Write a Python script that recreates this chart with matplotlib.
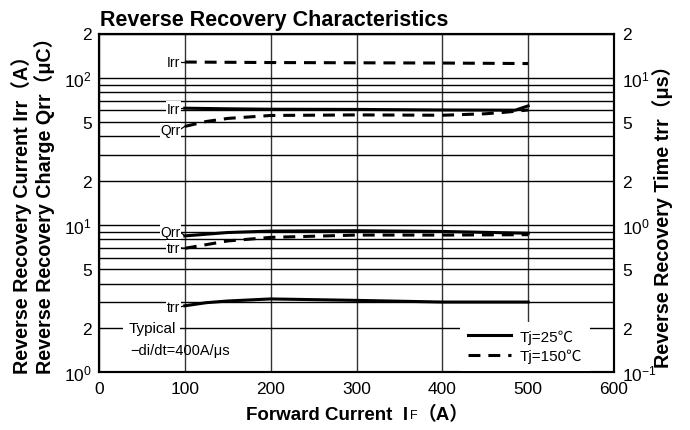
import matplotlib
matplotlib.use("Agg")
import matplotlib.pyplot as plt
from matplotlib.ticker import FixedLocator, FixedFormatter, LogLocator, NullFormatter
from matplotlib.lines import Line2D

plt.rcParams['font.family'] = ['Liberation Sans', 'Noto Sans CJK JP', 'DejaVu Sans']
plt.rcParams['mathtext.fontset'] = 'custom'
plt.rcParams['mathtext.rm'] = 'Liberation Sans'
plt.rcParams['mathtext.it'] = 'Liberation Sans:italic'

# ---- data ----
x_irr150 = [100, 200, 300, 400, 500]
irr150 = [128, 127, 126.5, 126, 125]

x_irr25 = [100, 150, 200, 300, 400, 485, 500]
irr25 = [62.2, 61.6, 61.2, 61.0, 60.5, 60.3, 64.5]

x_qrr150 = [100, 125, 150, 200, 300, 400, 450, 475, 500]
qrr150 = [46.8, 50.5, 53.0, 55.5, 56.0, 55.7, 57.0, 58.5, 60.5]

x_qrr25 = [100, 150, 200, 300, 400, 500]
qrr25 = [8.44, 8.9, 9.1, 9.15, 9.05, 8.8]

x_trr150 = [100, 150, 200, 300, 400, 500]
trr150 = [0.695, 0.78, 0.825, 0.855, 0.855, 0.86]

x_trr25 = [100, 125, 150, 200, 300, 400, 500]
trr25 = [0.283, 0.297, 0.305, 0.315, 0.308, 0.300, 0.300]

x_ticks = [0, 100, 200, 300, 400, 500, 600]
left_ticks = [1, 2, 5, 10, 20, 50, 100, 200]
left_labels = [r'$\mathregular{10^{0}}$', '2', '5', r'$\mathregular{10^{1}}$', '2', '5', r'$\mathregular{10^{2}}$', '2']
right_ticks = [0.1, 0.2, 0.5, 1, 2, 5, 10, 20]
right_labels = [r'$\mathregular{10^{-1}}$', '2', '5', r'$\mathregular{10^{0}}$', '2', '5', r'$\mathregular{10^{1}}$', '2']

# ---- figure ----
fig = plt.figure(figsize=(6.9, 4.31), dpi=100)
ax = fig.add_axes([99/690, 1-373.3/431, (614-99)/690, (373.3-34.5)/431])
ax.set_xlim(0, 600)
ax.set_yscale('log')
ax.set_ylim(1, 200)
ax.xaxis.set_major_locator(FixedLocator(x_ticks))
ax.yaxis.set_major_locator(FixedLocator(left_ticks))
ax.yaxis.set_major_formatter(FixedFormatter(left_labels))
ax.yaxis.set_minor_locator(LogLocator(base=10, subs=range(2, 10)))
ax.yaxis.set_minor_formatter(NullFormatter())
ax.tick_params(which='both', length=0, labelsize=12.5)
ax.tick_params(axis='x', pad=6)
ax.tick_params(axis='y', pad=5)
ax.grid(which='both', axis='y', color='black', lw=1.0)
ax.grid(which='major', axis='x', color='#333333', lw=1.0)
for s in ax.spines.values():
    s.set_linewidth(1.5)

ax2 = ax.twinx()
ax2.set_yscale('log')
ax2.set_ylim(0.1, 20)
ax2.yaxis.set_major_locator(FixedLocator(right_ticks))
ax2.yaxis.set_major_formatter(FixedFormatter(right_labels))
ax2.yaxis.set_minor_locator(FixedLocator([]))
ax2.tick_params(which='both', length=0, labelsize=12.5, pad=6)
for s in ax2.spines.values():
    s.set_linewidth(1.5)

lw = 2.2
dash = (3.9, 2.6)
ax.plot(x_irr150, irr150, color='black', lw=lw, dashes=dash)
ax.plot(x_irr25, irr25, color='black', lw=lw)
ax.plot(x_qrr150, qrr150, color='black', lw=lw, dashes=dash)
ax.plot(x_qrr25, qrr25, color='black', lw=lw)
ax2.plot(x_trr150, trr150, color='black', lw=lw, dashes=dash)
ax2.plot(x_trr25, trr25, color='black', lw=lw)

# ---- curve labels ----
lab_kw = dict(ha='right', va='center', fontsize=10, color='black',
              bbox=dict(facecolor='white', edgecolor='none', pad=0.5), zorder=4)
ax.text(95, 128, 'Irr', **lab_kw)
ax.plot([95.5, 100], [128, 128], color='black', lw=0.9)
ax.text(95, 61.5, 'Irr', **lab_kw)
ax.plot([95.5, 100], [61.8, 62.2], color='black', lw=0.9)
ax.text(95, 44.0, 'Qrr', **lab_kw)
ax.plot([95.5, 100], [45.0, 46.8], color='black', lw=0.9)
ax.text(95, 9.0, 'Qrr', **lab_kw)
ax.plot([95.5, 100], [8.9, 8.44], color='black', lw=0.9)
ax2.text(95, 0.70, 'trr', **lab_kw)
ax2.plot([95.5, 100], [0.70, 0.695], color='black', lw=0.9)
ax2.text(95, 0.279, 'trr', **lab_kw)
ax2.plot([95.5, 100], [0.279, 0.283], color='black', lw=0.9)

ax.text(34, 2.0, 'Typical', ha='left', va='center', fontsize=11,
        bbox=dict(facecolor='white', edgecolor='none', pad=3.5), zorder=4)
ax.text(36, 1.41, '\u2212di/dt=400A/\u03bcs', ha='left', va='center', fontsize=10.5, zorder=4)

# ---- legend ----
handles = [Line2D([], [], color='black', lw=lw),
           Line2D([], [], color='black', lw=lw, dashes=dash)]
leg = ax2.legend(handles, ['Tj=25\u2103', 'Tj=150\u2103'], loc='lower right',
                 bbox_to_anchor=(590/690, 1-372/431), bbox_transform=fig.transFigure,
                 frameon=True, fancybox=False, framealpha=1, edgecolor='none',
                 facecolor='white', fontsize=11, handlelength=2.8,
                 handletextpad=0.6, labelspacing=0.35, borderaxespad=0, borderpad=0.5)

# ---- titles and axis labels ----
fig.text(100/690, 1-26/431, 'Reverse Recovery Characteristics', ha='left', va='baseline',
         fontsize=15.5, fontweight='bold')

t1 = fig.text(246/690, 1-420/431, 'Forward Current  I', ha='left', va='baseline',
              fontsize=13.5, fontweight='bold')
t2 = plt.annotate('F', xy=(1, 0), xycoords=t1, xytext=(1, 1.5), textcoords='offset points',
                  ha='left', va='bottom', fontsize=9, annotation_clip=False)
t3 = plt.annotate('\uff08A\uff09', xy=(1, 0), xycoords=(t2, t1), ha='left', va='bottom',
                  fontsize=13.5, fontweight='bold', annotation_clip=False)

fig.text(22/690, 1-374/431, 'Reverse Recovery Current Irr\uff08A\uff09', rotation=90, ha='center',
         va='bottom', fontsize=14.2, fontweight='bold')
fig.text(45/690, 1-374/431, 'Reverse Recovery Charge Qrr\uff08\u03bcC\uff09', rotation=90, ha='center',
         va='bottom', fontsize=14.2, fontweight='bold')
fig.text(663/690, 1-56/431, 'Reverse Recovery Time trr\uff08\u03bcs\uff09', rotation=90, ha='center',
         va='top', fontsize=14.2, fontweight='bold')

fig.savefig('out.png', dpi=100)
